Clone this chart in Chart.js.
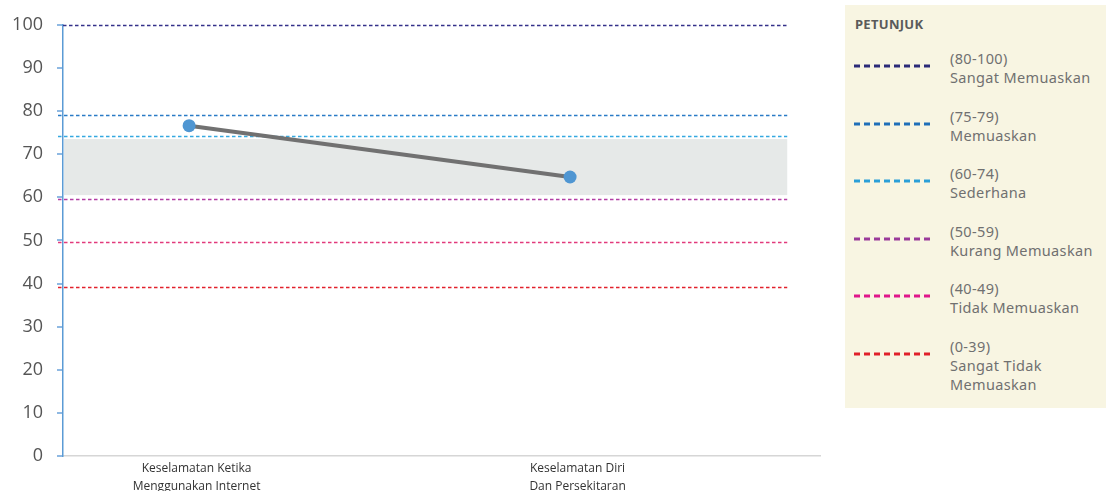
<!DOCTYPE html>
<html>
<head>
<meta charset="utf-8">
<script src="https://cdn.jsdelivr.net/npm/chart.js@4/dist/chart.umd.min.js"></script>
<style>
  html, body { margin: 0; padding: 0; background: #ffffff; }
  #wrap { position: relative; width: 1106px; height: 491px; overflow: hidden; }
  #c { position: absolute; left: 0; top: 0; }
  #legend {
    position: absolute; left: 845px; top: 5px; width: 261px; height: 403px;
    background: #f8f5e2; font-family: "Noto Sans", sans-serif; color: #707070;
  }
  #legend .title { position: absolute; left: 10px; top: 10px; font-size: 13px; font-weight: bold; color: #5a5a5a; letter-spacing: 0.3px; }
  #legend .item { position: absolute; left: 9px; width: 250px; }
  #legend .item svg { position: absolute; left: 0; top: 0; }
  #legend .item .txt { position: absolute; left: 96px; top: -4px; font-size: 14.5px; line-height: 19px; letter-spacing: 0.35px; white-space: nowrap; }
</style>
</head>
<body>
<div id="wrap">
  <canvas id="c" width="1106" height="491"></canvas>
  <div id="legend"></div>
</div>
<script>
// ---- data ----
const categories = [["Keselamatan Ketika", "Menggunakan Internet"], ["Keselamatan Diri", "Dan Persekitaran"]];
const scores = [76.6, 64.7];
const yTicks = [0, 10, 20, 30, 40, 50, 60, 70, 80, 90, 100];
const refLevels = [100, 79, 74.3, 59.7, 49.7, 39.3];
const refColors = ["#34318a", "#2a7bc6", "#35a9e0", "#b23ea4", "#e23a7c", "#e2222c"];
const bandRange = [60.5, 73.5];
const legendTitle = "PETUNJUK";
const legendRanges = ["(80-100)", "(75-79)", "(60-74)", "(50-59)", "(40-49)", "(0-39)"];
const legendNames = ["Sangat Memuaskan", "Memuaskan", "Sederhana", "Kurang Memuaskan", "Tidak Memuaskan", "Sangat Tidak<br>Memuaskan"];
const legendColors = ["#2b2a78", "#1f6fb8", "#2a9fd8", "#9a3a9a", "#e0168a", "#e0202a"];

// ---- legend (HTML) ----
const lg = document.getElementById('legend');
lg.innerHTML = '<div class="title">' + legendTitle + '</div>';
legendRanges.forEach((r, i) => {
  const d = document.createElement('div');
  d.className = 'item';
  d.style.top = (48 + i * 57.5) + 'px';
  d.innerHTML = '<svg width="90" height="30"><line x1="0" y1="13" x2="79" y2="13" stroke="' + legendColors[i] +
    '" stroke-width="3" stroke-dasharray="6,4"/></svg><div class="txt">' + r + '<br>' + legendNames[i] + '</div>';
  lg.appendChild(d);
});

// ---- reference band + lines plugin ----
const refPlugin = {
  id: 'refLines',
  beforeDatasetsDraw(chart, args, opts) {
    const ctx = chart.ctx, y = chart.scales.y, x = chart.scales.x, ca = chart.chartArea;
    const xr = x.getPixelForValue(opts.endValue);
    ctx.save();
    ctx.fillStyle = '#e6e9e8';
    const b1 = y.getPixelForValue(bandRange[1]), b0 = y.getPixelForValue(bandRange[0]);
    ctx.fillRect(ca.left + 1, b1, xr - ca.left - 1, b0 - b1);
    refLevels.forEach((v, i) => {
      const py = Math.round(y.getPixelForValue(v)) + 0.5;
      ctx.beginPath();
      ctx.setLineDash([3.5, 2.5]);
      ctx.lineWidth = 1.4;
      ctx.strokeStyle = refColors[i];
      ctx.moveTo(i === 0 ? ca.left : ca.left - 5, py);
      ctx.lineTo(xr, py);
      ctx.stroke();
    });
    ctx.restore();
  }
};

new Chart(document.getElementById('c'), {
  type: 'line',
  data: {
    datasets: [{
      data: scores.map((v, i) => ({ x: i, y: v })),
      borderColor: '#717171',
      borderWidth: 4,
      pointRadius: 6.5,
      pointHoverRadius: 6.5,
      pointBackgroundColor: '#4f96d2',
      pointBorderWidth: 0,
      tension: 0
    }]
  },
  options: {
    responsive: false,
    animation: false,
    events: [],
    layout: { padding: { top: 24, right: 286, left: 0, bottom: 0 } },
    plugins: {
      legend: { display: false },
      tooltip: { enabled: false },
      refLines: { endValue: 1.57 }
    },
    scales: {
      x: {
        type: 'linear',
        min: -0.331,
        max: 1.656,
        afterBuildTicks: s => { s.ticks = categories.map((c, i) => ({ value: i })); },
        afterFit: s => { s.height = 35; },
        grid: { display: false, drawTicks: false },
        border: { display: true, color: '#d6d6d6', width: 1.5 },
        ticks: {
          callback: (v) => categories[v],
          labelOffset: 7.5,
          padding: 4,
          maxRotation: 0,
          autoSkip: false,
          color: '#333333',
          font: { family: '"Open Sans", sans-serif', size: 12, lineHeight: 1.5 }
        }
      },
      y: {
        min: 0,
        max: 100,
        afterBuildTicks: s => { s.ticks = yTicks.map(v => ({ value: v })); },
        afterFit: s => { s.width = 63; },
        grid: { drawOnChartArea: false, drawTicks: true, tickLength: 6, color: '#8fb9e3', lineWidth: 2 },
        border: { display: true, color: '#5b9bd5', width: 1.5 },
        ticks: {
          padding: 14,
          color: '#555555',
          font: { family: '"Open Sans", sans-serif', size: 18 }
        }
      }
    }
  },
  plugins: [refPlugin]
});
</script>
</body>
</html>
